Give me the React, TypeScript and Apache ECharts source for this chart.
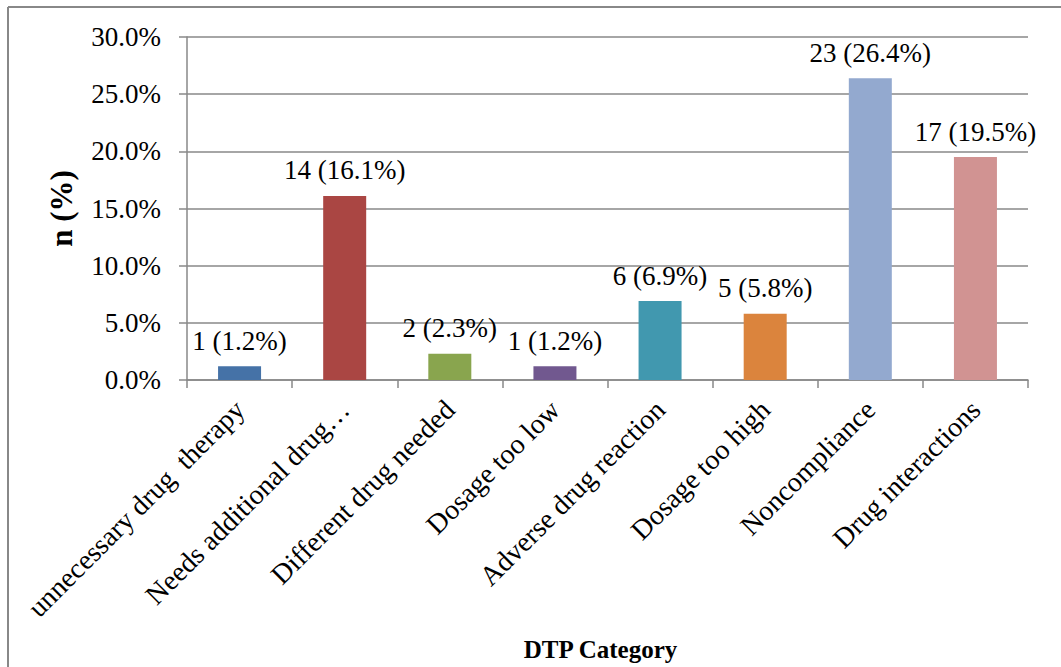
import React, { useEffect, useRef } from "react";
import * as echarts from "echarts";

const categories = [
  "unnecessary drug  therapy",
  "Needs additional drug…",
  "Different drug needed",
  "Dosage too low",
  "Adverse drug reaction",
  "Dosage too high",
  "Noncompliance",
  "Drug interactions",
];
const counts = [1, 14, 2, 1, 6, 5, 23, 17];
const percents = [1.2, 16.1, 2.3, 1.2, 6.9, 5.8, 26.4, 19.5];
const barColors = ["#4572A7", "#AA4643", "#89A54E", "#71588F", "#4198AF", "#DB843D", "#93A9CF", "#D19392"];

const FONT = "Liberation Serif";
const GRAY = "#888888";

export default function App() {
  const ref = useRef<HTMLDivElement>(null);
  useEffect(() => {
    if (!ref.current) return;
    const chart = echarts.init(ref.current, undefined, { renderer: "svg" });
    chart.setOption({
      animation: false,
      backgroundColor: "#ffffff",
      textStyle: { fontFamily: FONT },
      graphic: [
        {
          type: "line",
          shape: { x1: 8, y1: 7, x2: 1061, y2: 7 },
          style: { stroke: GRAY, lineWidth: 2 },
        },
        {
          type: "line",
          shape: { x1: 8, y1: 7, x2: 8, y2: 667 },
          style: { stroke: GRAY, lineWidth: 2 },
        },
      ],
      grid: { left: 187, right: 33, top: 37, bottom: 286, containLabel: false },
      xAxis: {
        type: "category",
        data: categories,
        name: "DTP Category",
        nameLocation: "middle",
        nameGap: 257,
        nameTextStyle: {
          fontFamily: FONT,
          fontSize: 25,
          fontWeight: "bold",
          color: "#000",
          padding: [0, 14, 0, 0],
        },
        axisLine: { lineStyle: { color: GRAY, width: 1.5 } },
        axisTick: { show: true, length: 8, lineStyle: { color: GRAY, width: 1.5 } },
        axisLabel: {
          rotate: 45,
          interval: 0,
          margin: 25,
          fontFamily: FONT,
          fontSize: 28,
          color: "#000",
        },
      },
      yAxis: {
        type: "value",
        min: 0,
        max: 30,
        interval: 5,
        name: "n (%)",
        nameLocation: "middle",
        nameGap: 110,
        nameRotate: 90,
        nameTextStyle: { fontFamily: FONT, fontSize: 31, fontWeight: "bold", color: "#000" },
        axisLine: { show: true, lineStyle: { color: GRAY, width: 1.5 } },
        axisTick: { show: true, length: 8, lineStyle: { color: GRAY, width: 1.5 } },
        splitLine: { show: true, lineStyle: { color: GRAY, width: 1.5 } },
        axisLabel: {
          margin: 26,
          fontFamily: FONT,
          fontSize: 27,
          color: "#000",
          formatter: (v: number) => v.toFixed(1) + "%",
        },
      },
      series: [
        {
          type: "bar",
          barWidth: 43,
          data: percents.map((p, i) => ({
            value: p,
            itemStyle: { color: barColors[i] },
          })),
          label: {
            show: true,
            position: "top",
            distance: 12,
            fontFamily: FONT,
            fontSize: 27,
            color: "#000",
            formatter: (params: any) => `${counts[params.dataIndex]} (${percents[params.dataIndex].toFixed(1)}%)`,
          },
        },
      ],
    });
    return () => chart.dispose();
  }, []);
  return (
    <div
      ref={ref}
      style={{ position: "absolute", left: 0, top: 0, width: 1061, height: 667 }}
    />
  );
}
